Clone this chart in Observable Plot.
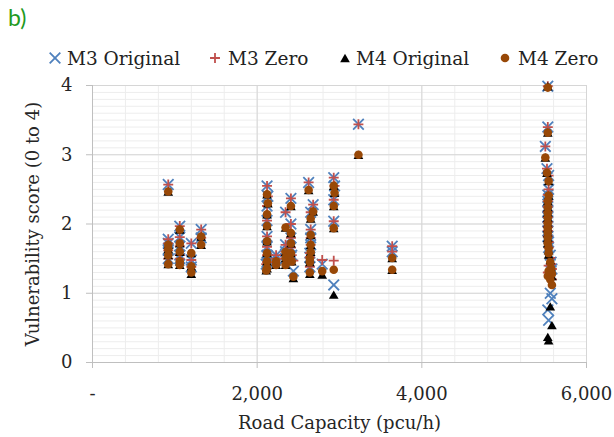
<!DOCTYPE html>
<html><head><meta charset="utf-8">
<script src="https://cdn.jsdelivr.net/npm/d3@7"></script>
<script src="https://cdn.jsdelivr.net/npm/@observablehq/plot@0.6"></script>
<style>
body{margin:0;background:#fff;}
#wrap{position:relative;width:614px;height:437px;overflow:hidden;background:#fff;}
#tag{position:absolute;left:8px;top:3px;font-family:Lato,sans-serif;font-size:23px;color:#1f9a1f;}
.item{position:absolute;top:46px;height:24px;display:flex;align-items:center;font-family:"DejaVu Serif",serif;font-size:18.5px;color:#222;white-space:nowrap;}
.item svg{position:absolute;top:0;}
#chart{position:absolute;left:0;top:0;}
</style></head>
<body>
<div id="wrap"><div id="chart"></div><div id="tag">b)</div><div id="legend"></div></div>
<script>
// ---- data ----
const seriesNames = ["M3 Original", "M3 Zero", "M4 Original", "M4 Zero"];
const capacity = [
  920, 920, 920, 920, 920,
  1060, 1060, 1060, 1060, 1060,
  1200, 1200, 1200,
  1320, 1320,
  2120, 2130, 2120, 2120, 2120, 2120, 2120, 2120, 2110,
  2230, 2230,
  2345, 2345, 2345, 2345,
  2410, 2410, 2410, 2410, 2420, 2440,
  2625, 2680, 2650, 2650, 2650, 2650, 2640, 2640, 2640,
  2790,
  2930, 2940, 2930, 2930, 2930,
  3230,
  3640, 3640,
  5530, 5530, 5500, 5520, 5540, 5540, 5530, 5530, 5530, 5530, 5530, 5530, 5530, 5530, 5530,
  5540, 5540, 5560, 5570, 5580, 5560, 5580, 5530, 5540
];
const m3Original = [
  2.57, 1.78, 1.72, 1.62, 1.50,
  1.97, 1.81, 1.68, 1.55, 1.50,
  1.72, 1.48, 1.38,
  1.92, 1.80,
  2.55, 2.40, 2.26, 2.05, 1.82, 1.67, 1.55, 1.45, 1.42,
  1.55, 1.50,
  2.17, 1.70, 1.60, 1.50,
  2.37, 2.00, 1.80, 1.66, 1.55, 1.32,
  2.60, 2.28, 2.17, 1.92, 1.80, 1.70, 1.58, 1.52, 1.38,
  1.42,
  2.67, 2.55, 2.35, 2.04, 1.12,
  3.44,
  1.68, 1.60,
  3.99, 3.40, 3.12, 2.80, 2.70, 2.50, 2.42, 2.33, 2.25, 2.18, 2.10, 2.03, 1.96, 1.90, 1.82,
  1.74, 1.66, 1.55, 1.45, 1.35, 1.00, 0.92, 0.76, 0.61
];
const m3Zero = [
  2.57, 1.78, 1.72, 1.62, 1.50,
  1.97, 1.81, 1.68, 1.55, 1.50,
  1.72, 1.48, 1.38,
  1.92, 1.80,
  2.55, 2.40, 2.26, 2.05, 1.82, 1.67, 1.55, 1.45, 1.42,
  1.55, 1.50,
  2.17, 1.70, 1.60, 1.50,
  2.37, 2.00, 1.80, 1.66, 1.55, 1.47,
  2.60, 2.28, 2.17, 1.92, 1.80, 1.70, 1.58, 1.52, 1.38,
  1.48,
  2.67, 2.55, 2.35, 2.04, 1.47,
  3.44,
  1.68, 1.60,
  3.99, 3.40, 3.12, 2.80, 2.70, 2.50, 2.42, 2.33, 2.25, 2.18, 2.10, 2.03, 1.96, 1.90, 1.82,
  1.74, 1.66, 1.51, 1.42, 1.35, 1.25, 1.20, 1.30, 1.40
];
const m4Original = [
  2.47, 1.70, 1.64, 1.55, 1.42,
  1.92, 1.72, 1.60, 1.46, 1.41,
  1.58, 1.39, 1.28,
  1.82, 1.70,
  2.43, 2.30, 2.14, 1.97, 1.75, 1.58, 1.46, 1.36, 1.33,
  1.46, 1.41,
  1.95, 1.60, 1.51, 1.41,
  2.26, 1.87, 1.72, 1.58, 1.46, 1.22,
  2.49, 2.18, 2.08, 1.84, 1.70, 1.60, 1.50, 1.45, 1.28,
  1.27,
  2.55, 2.45, 2.26, 1.94, 0.98,
  3.00,
  1.51, 1.34,
  3.99, 3.32, 2.96, 2.74, 2.62, 2.41, 2.33, 2.24, 2.16, 2.09, 2.01, 1.94, 1.87, 1.80, 1.72,
  1.62, 1.56, 1.48, 1.38, 1.25, 0.81, 0.54, 0.37, 0.32
];
const m4Zero = [
  2.47, 1.70, 1.64, 1.55, 1.42,
  1.92, 1.72, 1.60, 1.46, 1.41,
  1.58, 1.39, 1.30,
  1.82, 1.70,
  2.43, 2.30, 2.14, 1.97, 1.75, 1.58, 1.46, 1.36, 1.33,
  1.46, 1.41,
  1.95, 1.60, 1.51, 1.41,
  2.26, 1.87, 1.72, 1.58, 1.46, 1.24,
  2.49, 2.18, 2.08, 1.84, 1.70, 1.60, 1.50, 1.45, 1.30,
  1.32,
  2.55, 2.45, 2.26, 1.94, 1.34,
  3.00,
  1.51, 1.34,
  3.97, 3.32, 2.96, 2.74, 2.62, 2.41, 2.33, 2.24, 2.16, 2.09, 2.01, 1.94, 1.87, 1.80, 1.72,
  1.65, 1.58, 1.45, 1.36, 1.28, 1.20, 1.12, 1.25, 1.32
];
const xTicks = [0, 2000, 4000, 6000];
const yTicks = [0, 1, 2, 3, 4];

// ---- styles ----
const BLUE = "#4F81BD", RED = "#C0504D", BLACK = "#000000", BROWN = "#984807";
const symbolSpec = [
  {symbol: "times", r: 4.9, stroke: BLUE, fill: "none", strokeWidth: 1.8},
  {symbol: "plus", r: 3.3, stroke: RED, fill: "none", strokeWidth: 1.8},
  {symbol: "triangle", r: 3.6, stroke: "none", fill: BLACK, dy: 1.4},
  {symbol: "circle", r: 4.3, stroke: "none", fill: BROWN}
];
const rows = capacity.map((c, i) => ({c, v: [m3Original[i], m3Zero[i], m4Original[i], m4Zero[i]]}));

const chart = Plot.plot({
  width: 614, height: 437,
  marginLeft: 92, marginRight: 28, marginTop: 85, marginBottom: 75,
  style: {fontFamily: '"DejaVu Serif", serif', fontSize: "18px", color: "#262626", background: "transparent"},
  x: {domain: [0, 6000]},
  y: {domain: [0, 4]},
  marks: [
    Plot.gridX(d3.range(400, 6000, 400), {stroke: "#ededed", strokeOpacity: 1}),
    Plot.gridY(d3.range(1, 40).map(i => i / 10), {stroke: "#ededed", strokeOpacity: 1}),
    Plot.gridX([2000, 4000, 6000], {stroke: "#d6d6d6", strokeOpacity: 1}),
    Plot.gridY([1, 2, 3, 4], {stroke: "#d6d6d6", strokeOpacity: 1}),
    Plot.ruleY([0], {stroke: "#bfbfbf"}),
    Plot.ruleX([0], {stroke: "#bfbfbf"}),
    Plot.axisX(xTicks, {tickSize: 6, tickPadding: 19, stroke: "#bfbfbf", fill: "#262626",
      tickFormat: d => d === 0 ? "-" : d3.format(",")(d),
      label: "Road Capacity (pcu/h)", labelAnchor: "center", labelOffset: 66, labelArrow: "none"}),
    Plot.axisY(yTicks, {tickSize: 6, tickPadding: 14, stroke: "#bfbfbf", fill: "#262626",
      tickFormat: d3.format("d"),
      label: "Vulnerability score (0 to 4)", labelAnchor: "center", labelOffset: 66, labelArrow: "none"}),
    ...symbolSpec.map((s, k) => Plot.dot(rows, {x: "c", y: d => d.v[k], ...s}))
  ]
});
document.getElementById("chart").append(chart);

// ---- legend ----
const legendPos = [{sym: 55, text: 67}, {sym: 215, text: 228}, {sym: 345, text: 356}, {sym: 505, text: 518}];
const legend = document.getElementById("legend");
seriesNames.forEach((name, k) => {
  const s = symbolSpec[k];
  const div = document.createElement("div");
  div.className = "item";
  div.style.left = legendPos[k].text + "px";
  div.textContent = name;
  const size = Math.PI * s.r * s.r;
  const symType = {times: d3.symbolTimes, plus: d3.symbolPlus, triangle: d3.symbolTriangle, circle: d3.symbolCircle}[s.symbol];
  const svg = d3.create("svg").attr("width", 16).attr("height", 24)
    .style("left", (legendPos[k].sym - legendPos[k].text - 8) + "px");
  svg.append("path").attr("transform", `translate(8,${12 + (s.dy || 0)})`)
    .attr("d", d3.symbol(symType, size)())
    .attr("fill", s.fill).attr("stroke", s.stroke).attr("stroke-width", s.strokeWidth || 0);
  div.append(svg.node());
  legend.append(div);
});
</script>
</body></html>
